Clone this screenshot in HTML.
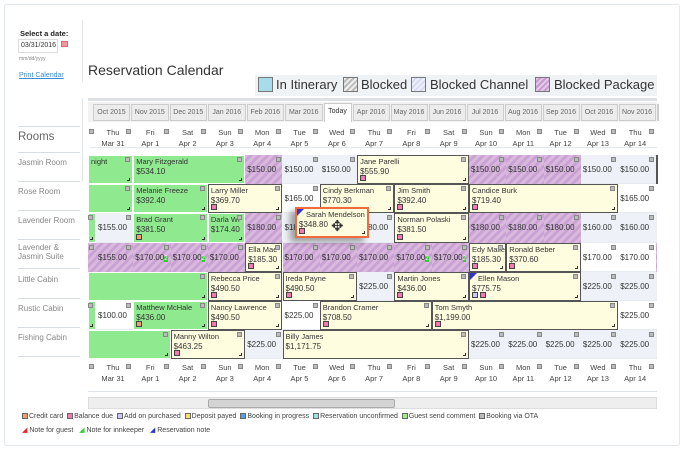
<!DOCTYPE html>
<html><head><meta charset="utf-8">
<style>
*{box-sizing:border-box;margin:0;padding:0}
body{width:684px;height:450px;overflow:hidden;background:#fff;font-family:"Liberation Sans",sans-serif;position:relative;color:#333}
.abs{position:absolute}
.frame{left:4px;top:4px;width:676px;height:442px;border:1px solid #e3e8ee;border-radius:3px;background:#fff}
.sep{position:absolute;left:18px;width:62px;height:1px;background:#d8dde3}
.room{position:absolute;left:18px;font-size:8px;color:#888;line-height:9px}
.tab{position:absolute;top:104px;height:17px;border:1px solid #ccc;background:#ececec;font-size:7px;color:#666;text-align:center;line-height:15px;overflow:hidden;white-space:nowrap}
.hd{position:absolute;font-size:7.5px;color:#444;text-align:center;width:30px}
.ic{position:absolute;width:5px;height:5px;background:#bbb;border:1px solid #888}
.cell{position:absolute;overflow:hidden;font-size:7.5px;line-height:10px;color:#333}
.bk{border:1.5px solid #555;background:#fffddf}
.gr{background:#8fe98f;border:1px solid #fff}
.pk{background:repeating-linear-gradient(135deg,#d9b8de 0 3px,#c9a1d3 3px 6px)}
.av0{background:#eef2f8}
.av1{background:#fff}
.nm{position:absolute;left:2px;top:1px;white-space:nowrap}
.pr{position:absolute;left:2px;top:11px;white-space:nowrap;font-size:8px}
.av .pr,.pk .pr{top:10px}
.mk{position:absolute;bottom:2px;width:6px;height:6px;border:1px solid #444}
.rs{position:absolute;right:2px;bottom:2px;width:3px;height:3px;border-right:1px solid #333;border-bottom:1px solid #333}
.lg{font-size:7px;color:#444;position:absolute;white-space:nowrap}
.sq{display:inline-block;width:6px;height:6px;border:1px solid #666;vertical-align:-1px;margin-right:1px}
</style></head><body>
<div class="abs frame"></div>
<div class="abs" style="left:20px;top:29px;font-size:7.5px;font-weight:bold;color:#222">Select a date:</div>
<div class="abs" style="left:18px;top:39px;width:40px;height:14px;border:1px solid #ddd;font-size:7px;line-height:12px;padding-left:2px">03/31/2016</div>
<div class="abs" style="left:61px;top:41px;width:7px;height:6px;background:#f29a9a;border:1px solid #d66"></div>
<div class="abs" style="left:19px;top:56px;font-size:5px;color:#888">mm/dd/yyyy</div>
<div class="abs" style="left:19px;top:72px;font-size:7px;color:#3a8ad8;text-decoration:underline">Print Calendar</div>
<div class="abs" style="left:82px;top:20px;width:1px;height:62px;background:#e3e7ec"></div>
<div class="abs" style="left:82px;top:98px;width:1px;height:84px;background:#e3e7ec"></div>
<div class="abs" style="left:88px;top:62px;font-size:14px;color:#333">Reservation Calendar</div>
<div class="abs" style="left:255px;top:75px;width:402px;height:21px;background:#f0f3f6"></div>
<div class="abs" style="left:258px;top:77px;width:15px;height:15px;background:#a9dceb;border:1px solid #777"></div>
<div class="abs" style="left:276px;top:77px;font-size:13px">In Itinerary</div>
<div class="abs" style="left:343px;top:77px;width:15px;height:15px;background:repeating-linear-gradient(135deg,#eee 0 2px,#bbb 2px 4px);border:1px solid #777"></div>
<div class="abs" style="left:361px;top:77px;font-size:13px">Blocked</div>
<div class="abs" style="left:411px;top:77px;width:15px;height:15px;background:repeating-linear-gradient(135deg,#eef0fb 0 2px,#d6dbf3 2px 4px);border:1px solid #777"></div>
<div class="abs" style="left:430px;top:77px;font-size:13px">Blocked Channel</div>
<div class="abs" style="left:535px;top:77px;width:15px;height:15px;background:repeating-linear-gradient(135deg,#e3c8e8 0 2px,#c79bd0 2px 4px);border:1px solid #777"></div>
<div class="abs" style="left:554px;top:77px;font-size:13px">Blocked Package</div>
<div class="abs" style="left:88px;top:98px;width:569px;height:3px;background:#dde1e6"></div>
<div class="abs" style="left:88px;top:102px;width:569px;height:20px;background:#f2f2f2"></div>
<div class="abs" style="left:90px;top:147px;width:567px;height:1px;background:#e3e8ee"></div>
<div class="abs" style="left:18px;top:131px;font-size:11.5px;color:#666">Rooms</div>
<div id="root"></div>
<div class="abs" style="left:88px;top:391px;width:569px;height:1px;background:#dde3ea"></div>
<div class="abs" style="left:88px;top:397px;width:569px;height:12px;background:#eee;border:1px solid #ddd">
 <div class="abs" style="left:119px;top:1px;width:187px;height:9px;background:#d4d4d4;border:1px solid #aaa;border-radius:2px"></div>
</div>
<div class="lg" style="left:22px;top:413px"><span class="sq" style="background:#f0a070"></span>Credit card&nbsp; <span class="sq" style="background:#f27ab0"></span>Balance due&nbsp; <span class="sq" style="background:#c9c9f5"></span>Add on purchased&nbsp; <span class="sq" style="background:#f3e27a"></span>Deposit payed&nbsp; <span class="sq" style="background:#5c9be6"></span>Booking in progress&nbsp; <span class="sq" style="background:#9fe3ea"></span>Reservation unconfirmed&nbsp; <span class="sq" style="background:#a8e98a"></span>Guest send comment&nbsp; <span class="sq" style="background:#bbb"></span>Booking via OTA</div>
<div class="lg" style="left:22px;top:426px"><span style="color:#e22">&#9698;</span> Note for guest&nbsp;&nbsp; <span style="color:#3c3">&#9698;</span> Note for innkeeper&nbsp;&nbsp; <span style="color:#33c">&#9698;</span> Reservation note</div>
<script>
const rooms=["Jasmin Room","Rose Room","Lavender Room","Lavender & Jasmin Suite","Little Cabin","Rustic Cabin","Fishing Cabin"];
const dayNames=["Wed","Thu","Fri","Sat","Sun","Mon","Tue","Wed","Thu","Fri","Sat","Sun","Mon","Tue","Wed","Thu","Fri"];
const dayDates=["Mar 30","Mar 31","Apr 1","Apr 2","Apr 3","Apr 4","Apr 5","Apr 6","Apr 7","Apr 8","Apr 9","Apr 10","Apr 11","Apr 12","Apr 13","Apr 14","Apr 15"];
const tabs=["Oct 2015","Nov 2015","Dec 2015","Jan 2016","Feb 2016","Mar 2016","Today","Apr 2016","May 2016","Jun 2016","Jul 2016","Aug 2016","Sep 2016","Oct 2016","Nov 2016","Dec"];
// bookings: [row, startDayIndex, endDayIndex, type, name, price, markers] (index into dayNames)
const bookings=[
[0,0,2,"gr","night","",""],[0,2,5,"gr","Mary Fitzgerald","$534.10",""],[0,8,11,"bk","Jane Parelli","$555.90","p"],[0,16,18,"bk","C","$","o"],
[1,0,2,"gr","","",""],[1,2,4,"gr","Melanie Freeze","$392.40",""],[1,4,6,"bk","Larry Miller","$369.70","p"],[1,7,9,"bk","Cindy Berkman","$770.30",""],[1,9,11,"bk","Jim Smith","$392.40","p"],[1,11,15,"bk","Candice Burk","$719.40","p"],
[2,0,1,"gr","","",""],[2,2,4,"gr","Brad Grant","$381.50","o"],[2,4,5,"gr","Darla Wi","$174.40",""],[2,9,11,"bk","Norman Polaski","$381.50","p"],
[3,5,6,"bk","Ella Mae","$185.30","p"],[3,11,12,"bk","Edy Maile","$185.30","p"],[3,12,14,"bk","Ronald Beber","$370.60","p"],
[4,0,4,"gr","","",""],[4,4,6,"bk","Rebecca Price","$490.50","p"],[4,6,8,"bk","Ireda Payne","$490.50","p"],[4,9,11,"bk","Martin Jones","$436.00","p"],[4,11,14,"bk","Ellen Mason","$775.75","lp"],
[5,0,1,"gr","","",""],[5,2,4,"gr","Matthew McHale","$436.00","o"],[5,4,6,"bk","Nancy Lawrence","$490.50","p"],[5,7,10,"bk","Brandon Cramer","$708.50","p"],[5,10,15,"bk","Tom Smyth","$1,199.00","p"],
[6,0,3,"gr","","",""],[6,3,5,"bk","Manny Wilton","$463.25","p"],[6,6,11,"bk","Billy James","$1,171.75",""]
];
// nightly rates for open/blocked days: [row, dayIndex, price, blockedPackage]
const rates=[
[0,5,"$150.00",1],[0,6,"$150.00",0],[0,7,"$150.00",0],[0,11,"$150.00",1],[0,12,"$150.00",1],[0,13,"$150.00",1],[0,14,"$150.00",0],[0,15,"$150.00",0],
[1,6,"$165.00",0],[1,15,"$165.00",0],[1,16,"$",0],
[2,1,"$155.00",0],[2,5,"$180.00",1],[2,6,"$180.00",0],[2,7,"$180.00",0],[2,8,"$180.00",0],[2,11,"$180.00",1],[2,12,"$180.00",1],[2,13,"$180.00",1],[2,14,"$160.00",0],[2,15,"$160.00",0],[2,16,"$",0],
[3,0,"",1],[3,1,"$155.00",1],[3,2,"$170.00(2)",1],[3,3,"$170.00(2)",1],[3,4,"$170.00",1],[3,6,"$170.00",1],[3,7,"$170.00",1],[3,8,"$170.00",1],[3,9,"$170.00(2)",1],[3,10,"$170.00(2)",1],[3,14,"$170.00",0],[3,15,"$170.00",0],[3,16,"$",1],
[4,8,"$225.00",0],[4,14,"$225.00",0],[4,15,"$225.00",0],[4,16,"$",0],
[5,1,"$100.00",0],[5,6,"$225.00",0],[5,15,"$225.00",0],[5,16,"$",0],
[6,5,"$225.00",0],[6,11,"$225.00",0],[6,12,"$225.00",0],[6,13,"$225.00",0],[6,14,"$225.00",0],[6,15,"$225.00",0],[6,16,"$",0]
];
const root=document.getElementById('root');
const X0=58.7,CW=37.3,Y0=155,RH=29.2,GL=88,GR=657;
function colX(d){return X0+CW*d;}
function mk(cls,style,html){const e=document.createElement('div');e.className=cls;e.style.cssText=style;if(html)e.innerHTML=html;root.appendChild(e);return e;}
function clipBox(x1,x2){const a=Math.max(x1,GL),b=Math.min(x2,GR);return [a,b-a];}
[126,152,181,210,239,268,298,327,356].forEach(function(y){const s=mk('sep','top:'+y+'px');

});
rooms.forEach(function(r,i){const e=mk('room','top:'+(Y0+3+RH*i+(i==3?-3:0))+'px;width:64px',r);

});
const tw=[37,37.5,37.5,37.5,37.5,37.5,28,37,37,37,37,37,37,37,37,10];
let tx=93;
tabs.forEach(function(t,i){const act=t==="Today";const w=tw[i];const [a,b]=clipBox(tx,tx+w);
 if(b>0){
 const e=mk('tab','left:'+a+'px;width:'+b+'px;'+(act?'background:#fff;color:#333;top:103px;height:19px;border-bottom:none;':''),t);
 
 
 }
 tx+=w+1;});
function headers(y){dayNames.forEach(function(n,d){const x=colX(d);
 if(x+CW>GL&&x<GR){
  if(x+14-15>GL-5&&x+14<GR){const h=mk('hd','left:'+(x+2)+'px;top:'+y+'px',n+'<br>'+dayDates[d]);h.style.lineHeight='11px';
   
   }
  const ix=x+CW-7;if(ix>GL&&ix<GR){const ic=mk('ic','left:'+ix+'px;top:'+(y+2)+'px');
   
   }
 }});}
headers(127);headers(362);
rooms.forEach(function(r,i){const e=mk('cell '+(i%2?'av1':'av0'),'left:'+GL+'px;top:'+(Y0+RH*i)+'px;width:'+(GR-GL)+'px;height:'+RH+'px;border-bottom:1px solid #e6ebf0');

});
rates.forEach(function(r){const [a,w]=clipBox(colX(r[1]),colX(r[1]+1));if(w<=0)return;
 const e=mk('cell av '+(r[3]?'pk':''),'left:'+a+'px;top:'+(Y0+RH*r[0])+'px;width:'+w+'px;height:'+RH+'px','<span class="pr">'+r[2].replace('(2)','<span style="background:#3c3;color:#fff;font-size:6px">2</span>')+'</span>');
 
 
 if(colX(r[1]+1)-6<GR){const ic=mk('ic','left:'+(colX(r[1]+1)-7)+'px;top:'+(Y0+RH*r[0]+2)+'px');
  
  }
});
const mcol={p:'#f27ab0',o:'#f0a070',l:'#c9c9f5'};
bookings.forEach(function(b){const [a,w]=clipBox(colX(b[1]),colX(b[2]));if(w<=0)return;
 let h='<span class="nm">'+b[4]+'</span><span class="pr">'+b[5]+'</span><span class="rs"></span>';
 let mx=2;for(const c of b[6]){h+='<span class="mk" style="left:'+mx+'px;background:'+mcol[c]+'"></span>';mx+=8;}
 if(b[4]==="Ellen Mason")h+='<span class="abs" style="left:0;top:0;width:0;height:0;border-top:7px solid #33c;border-right:7px solid transparent"></span>';
 const e=mk('cell '+b[3],'left:'+a+'px;top:'+(Y0+RH*b[0])+'px;width:'+w+'px;height:'+RH+'px',h);
 if(b[4]==="Ellen Mason")e.querySelector('.nm').style.left='8px';
 
 
 if(colX(b[2])-6<GR){const ic=mk('ic','left:'+(colX(b[2])-8)+'px;top:'+(Y0+RH*b[0]+2)+'px');
  
  }
});
const t=mk('cell bk','left:295px;top:207px;width:74px;height:31px;border:2px solid #f26a3c;box-shadow:-5px 4px 6px rgba(0,0,0,0.35)','<span class="abs" style="left:0;top:0;width:0;height:0;border-top:7px solid #33c;border-right:7px solid transparent"></span><span class="nm" style="left:9px">Sarah Mendelson</span><span class="pr">$348.80</span><span class="mk" style="left:2px;background:#f27ab0"></span><span class="rs"></span><span class="abs" style="left:34px;top:10px;font-size:15px;line-height:15px">&#10021;</span>');


</script>
</body></html>
